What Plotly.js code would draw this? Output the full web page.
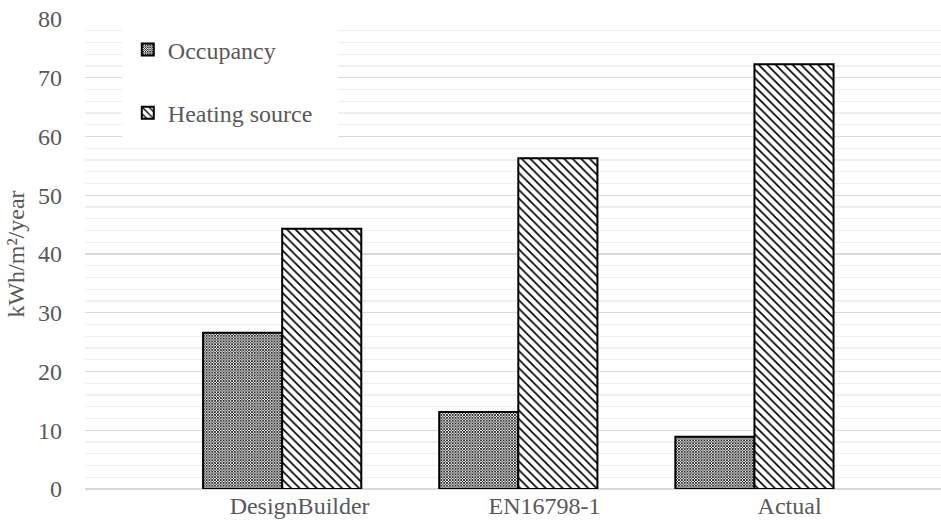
<!DOCTYPE html>
<html>
<head>
<meta charset="utf-8">
<script src="https://cdn.plot.ly/plotly-3.0.1.min.js"></script>
<style>html,body{margin:0;padding:0;background:#fff;}#chart{width:941px;height:527px;}</style>
</head>
<body>
<div id="chart"></div>
<script>
const categories = ["DesignBuilder", "EN16798-1", "Actual"];
const occupancy = [26.6, 13.1, 8.9];
const heatingSource = [44.3, 56.3, 72.3];
const seriesNames = ["Occupancy", "Heating source"];
const yTicks = [0, 10, 20, 30, 40, 50, 60, 70, 80];

const font = "Liberation Serif";
const grey = "#595959";
const fs = 24;

const traces = [
  {
    type: "bar", name: seriesNames[0], x: categories, y: occupancy,
    legendgroup: "a",
    marker: {
      color: "#ffffff",
      line: {color: "#000000", width: 2},
      pattern: {shape: "x", fgcolor: "#000000", bgcolor: "#ffffff", size: 2, solidity: 0.62}
    },
    hoverinfo: "none"
  },
  {
    type: "bar", name: seriesNames[1], x: categories, y: heatingSource,
    legendgroup: "b",
    marker: {
      color: "#ffffff",
      line: {color: "#000000", width: 2},
      pattern: {shape: "\\", fgcolor: "#000000", bgcolor: "#ffffff", size: 6, solidity: 0.28}
    },
    hoverinfo: "none"
  },
  {
    // carries the category labels on the label axis (Excel-style offset)
    type: "scatter", mode: "none", x: categories, y: occupancy,
    xaxis: "x2", yaxis: "y", showlegend: false, hoverinfo: "none"
  }
];

const layout = {
  width: 941, height: 527,
  margin: {l: 85, r: 0, t: 19, b: 38},
  paper_bgcolor: "#ffffff", plot_bgcolor: "#ffffff",
  font: {family: font, color: grey, size: fs},
  barmode: "group",
  bargap: 0.33, bargroupgap: 0,
  showlegend: true,
  legend: {
    x: 0.05, y: 0.982, xanchor: "left", yanchor: "top",
    bgcolor: "rgba(0,0,0,0)", font: {family: font, size: fs, color: grey},
    tracegroupgap: 29, itemwidth: 30,
    traceorder: "grouped"
  },
  shapes: [{
    type: "rect", xref: "paper", yref: "paper", layer: "above",
    x0: 0.0432, x1: 0.2956, y0: 0.726, y1: 1.002,
    fillcolor: "#ffffff", line: {width: 0}
  }],
  xaxis: {
    type: "category",
    range: [-0.835, 2.79],
    showgrid: false, showline: false, zeroline: false,
    ticks: "", showticklabels: false,
    fixedrange: true
  },
  xaxis2: {
    type: "category", overlaying: "x", side: "bottom", anchor: "y",
    range: [-0.876, 2.618],
    showgrid: false, showline: false, zeroline: false,
    ticks: "", tickfont: {family: font, size: fs, color: grey},
    fixedrange: true
  },
  yaxis: {
    range: [0, 80],
    tickvals: yTicks,
    ticktext: yTicks.map(String),
    showgrid: true, gridcolor: "#d9d9d9", gridwidth: 1.3,
    zeroline: true, zerolinecolor: "#d9d9d9", zerolinewidth: 1.3,
    showline: false, ticks: "",
    ticklabelstandoff: 22,
    tickfont: {family: font, size: fs, color: grey},
    minor: {dtick: 2, showgrid: true, gridcolor: "#efefef", gridwidth: 1.3},
    title: {text: "kWh/m²/year", font: {family: font, size: fs, color: grey}, standoff: 6},
    fixedrange: true
  }
};

Plotly.newPlot("chart", traces, layout, {staticPlot: true, displayModeBar: false});
</script>
</body>
</html>
